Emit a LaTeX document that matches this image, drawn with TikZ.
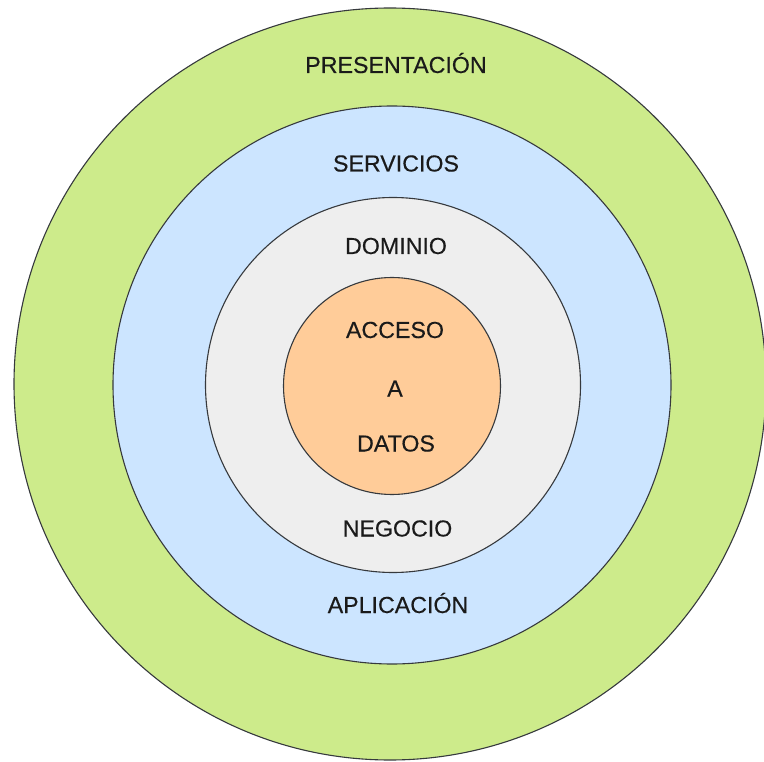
\documentclass[tikz,border=0pt]{standalone}
\usepackage{fontspec}
\setmainfont{Liberation Sans}
\newfontfamily\lblfont{Liberation Sans}[FakeBold=0.35]
\definecolor{lgreen}{HTML}{CDEB8B}
\definecolor{lblue}{HTML}{CCE5FF}
\definecolor{lgray}{HTML}{EEEEEE}
\definecolor{lorange}{HTML}{FFCC99}
\definecolor{rim}{HTML}{36393D}
\definecolor{txt}{HTML}{1A1A1A}
\begin{document}
\begin{tikzpicture}[x=1pt,y=-1pt,
  ring/.style={circle,draw=rim,line width=1.1pt,inner sep=0pt,minimum size=#1},
  lbl/.style={inner sep=0pt,text height=16pt,text depth=0pt,text=txt,font=\lblfont\fontsize{23.2}{27}\selectfont}]
\useasboundingbox (0,0) rectangle (764,762);
\clip (0,0) rectangle (764,762);
\fill[white] (0,0) rectangle (764,762);
\node[ring=752pt,fill=lgreen] (pres) at (390,384) {};
\node[ring=558pt,fill=lblue] (serv) at (392,385) {};
\node[ring=375pt,fill=lgray] (dom) at (393,385) {};
\node[ring=217pt,fill=lorange] (acc) at (392,386) {};
\node[lbl] (tpres) at (396,65) {PRESENTACIÓN};
\node[lbl] (tserv) at (396,163.5) {SERVICIOS};
\node[lbl] (tdom) at (396,246) {DOMINIO};
\node[lbl] (tacc) at (395,330) {ACCESO};
\node[lbl] (ta) at (395,388.5) {A};
\node[lbl] (tdat) at (396,443.5) {DATOS};
\node[lbl] (tneg) at (397.5,528.5) {NEGOCIO};
\node[lbl] (tapl) at (398,605) {APLICACIÓN};
\end{tikzpicture}
\end{document}
